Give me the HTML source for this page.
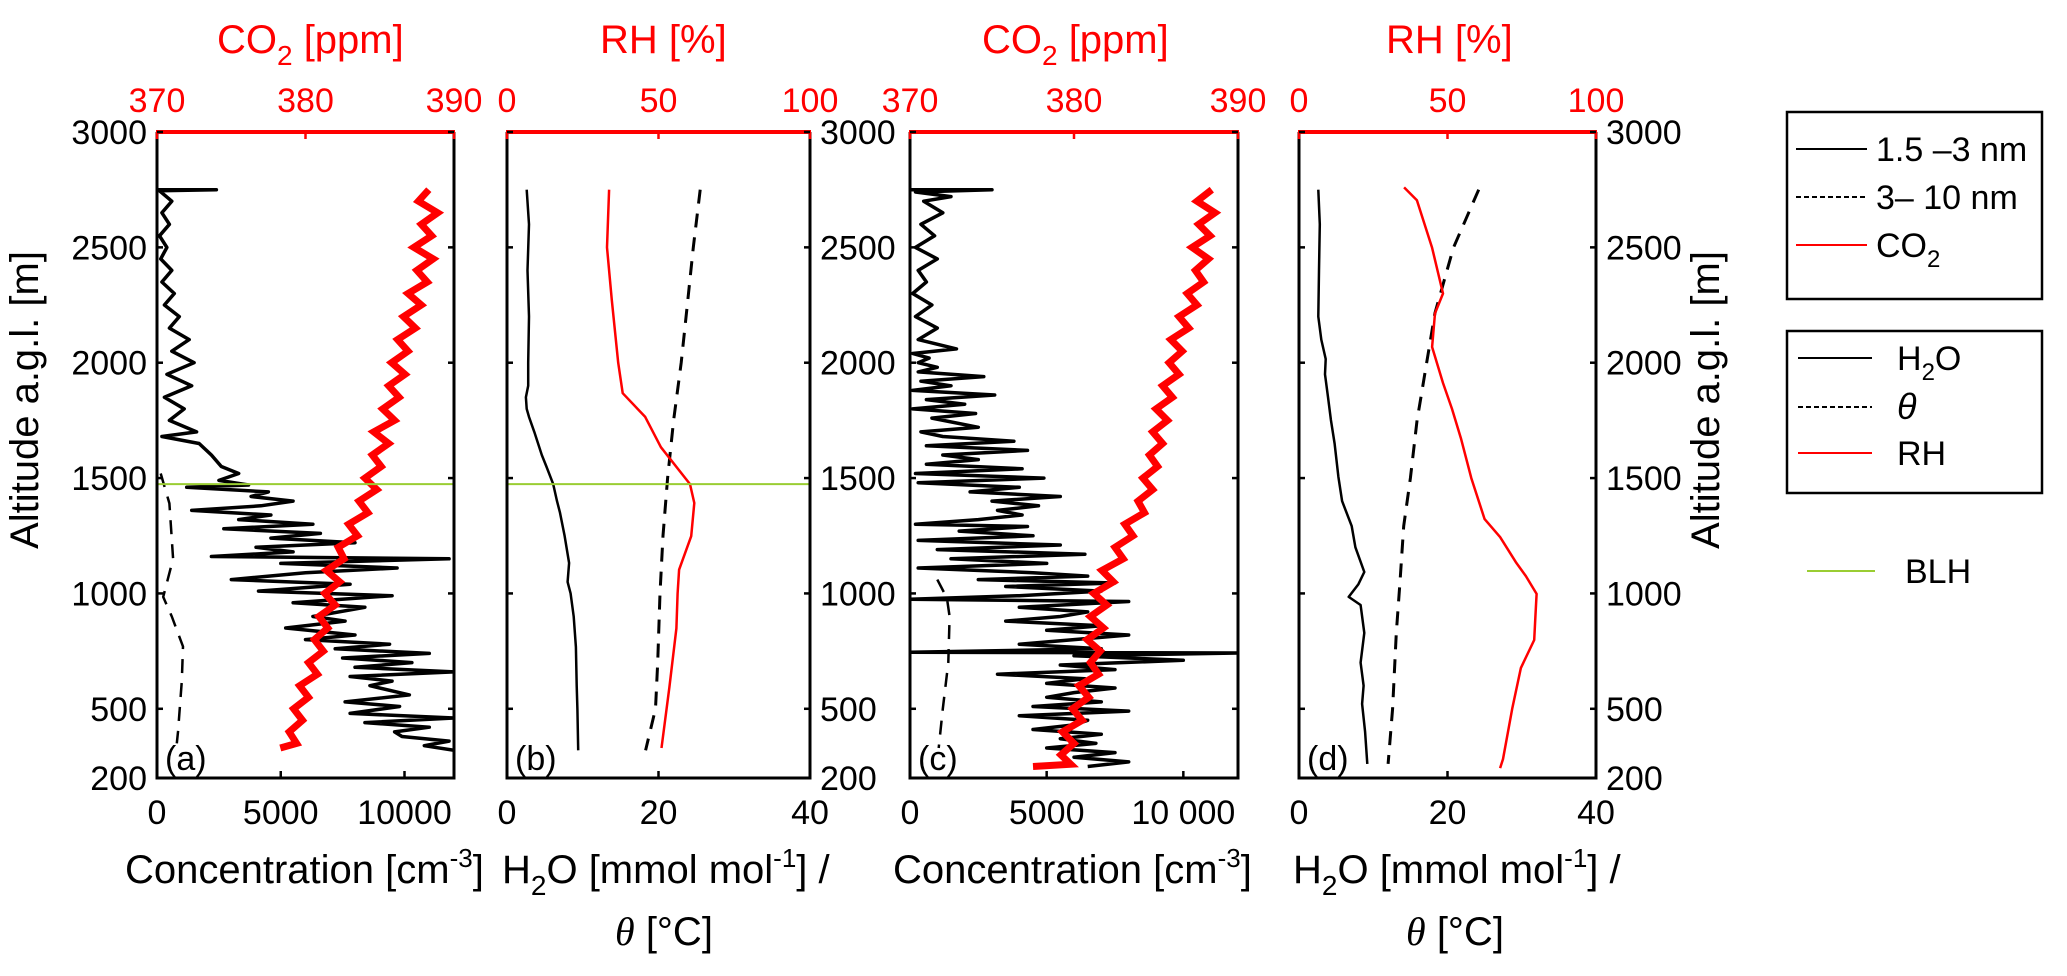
<!DOCTYPE html>
<html><head><meta charset="utf-8"><style>
html,body{margin:0;padding:0;background:#fff}
svg{display:block}
text{font-family:"Liberation Sans",sans-serif}
</style></head><body>
<svg id="fig" width="2067" height="976" viewBox="0 0 2067 976" xmlns="http://www.w3.org/2000/svg">
<g id="marks"></g>
<g id="axes"></g>

<text x="38" y="400" font-size="40" text-anchor="middle" transform="rotate(-90 38 400)">Altitude a.g.l. [m]</text>
<text x="1719" y="400" font-size="40" text-anchor="middle" transform="rotate(-90 1719 400)">Altitude a.g.l. [m]</text>

<text x="217" y="53" font-size="40" fill="#ff0000">CO<tspan font-size="28" dy="12">2</tspan><tspan dy="-12"> [ppm]</tspan></text>
<text x="600" y="53" font-size="40" fill="#ff0000">RH [%]</text>
<text x="982" y="53" font-size="40" fill="#ff0000">CO<tspan font-size="28" dy="12">2</tspan><tspan dy="-12"> [ppm]</tspan></text>
<text x="1386" y="53" font-size="40" fill="#ff0000">RH [%]</text>

<text x="125" y="883" font-size="40">Concentration [cm<tspan font-size="26" dy="-16">-3</tspan><tspan dy="16">]</tspan></text>
<text x="502" y="883" font-size="40">H<tspan font-size="28" dy="12">2</tspan><tspan dy="-12">O [mmol mol</tspan><tspan font-size="26" dy="-16">-1</tspan><tspan dy="16">] /</tspan></text>
<text x="664" y="945" font-size="40" text-anchor="middle"><tspan font-family="Liberation Serif" font-style="italic">θ</tspan> [°C]</text>
<text x="893" y="883" font-size="40">Concentration [cm<tspan font-size="26" dy="-16">-3</tspan><tspan dy="16">]</tspan></text>
<text x="1293" y="883" font-size="40">H<tspan font-size="28" dy="12">2</tspan><tspan dy="-12">O [mmol mol</tspan><tspan font-size="26" dy="-16">-1</tspan><tspan dy="16">] /</tspan></text>
<text x="1455" y="945" font-size="40" text-anchor="middle"><tspan font-family="Liberation Serif" font-style="italic">θ</tspan> [°C]</text>

<g>
<rect x="1787" y="112" width="255" height="187" fill="none" stroke="#000" stroke-width="2.5"/>
<line x1="1796" y1="149" x2="1867" y2="149" stroke="#000" stroke-width="2"/>
<text x="1876" y="161" font-size="34">1.5 –3 nm</text>
<line x1="1796" y1="197" x2="1867" y2="197" stroke="#000" stroke-width="2" stroke-dasharray="5,3"/>
<text x="1876" y="209" font-size="34">3– 10 nm</text>
<line x1="1796" y1="245" x2="1867" y2="245" stroke="#ff0000" stroke-width="2"/>
<text x="1876" y="257" font-size="34">CO<tspan font-size="24" dy="10">2</tspan></text>
</g>
<g>
<rect x="1787" y="331" width="255" height="162" fill="none" stroke="#000" stroke-width="2.5"/>
<line x1="1798" y1="358" x2="1872" y2="358" stroke="#000" stroke-width="2"/>
<text x="1897" y="370" font-size="34">H<tspan font-size="24" dy="10">2</tspan><tspan dy="-10">O</tspan></text>
<line x1="1798" y1="407" x2="1872" y2="407" stroke="#000" stroke-width="2" stroke-dasharray="5,3"/>
<text x="1897" y="419" font-size="36" font-family="Liberation Serif" font-style="italic">θ</text>
<line x1="1798" y1="453" x2="1872" y2="453" stroke="#ff0000" stroke-width="2"/>
<text x="1897" y="465" font-size="34">RH</text>
</g>
<line x1="1807" y1="571" x2="1875" y2="571" stroke="#9acd32" stroke-width="2"/>
<text x="1905" y="583" font-size="34">BLH</text>
</svg>
<script>
const altTicks = [3000, 2500, 2000, 1500, 1000, 500, 200];
const concTicksA = [0, 5000, 10000];
const concTickLabelsA = ["0", "5000", "10000"];
const concTickLabelsC = ["0", "5000", "10 000"];
const h2oTicks = [0, 20, 40];
const co2Ticks = [370, 380, 390];
const rhTicks = [0, 50, 100];
const blhAltitude = 1474;

const n13a = [[2750,0],[2750,2400],[2745,100],[2700,600],[2650,200],[2600,500],[2550,100],[2500,400],[2450,150],[2400,600],[2350,200],[2300,700],[2250,300],[2200,900],[2150,500],[2100,1300],[2050,600],[2000,1500],[1950,400],[1900,1400],[1850,300],[1800,1100],[1750,500],[1700,1600],[1680,200],[1650,1700],[1600,2200],[1550,2600],[1520,3300],[1490,2500],[1470,3700],[1460,1200],[1440,4500],[1420,3800],[1400,5500],[1380,4200],[1360,1400],[1340,4600],[1320,3300],[1300,6300],[1280,2700],[1260,6600],[1240,4600],[1220,8000],[1200,4000],[1180,5500],[1160,2200],[1150,11800],[1130,5000],[1110,9700],[1090,6000],[1060,3000],[1040,7800],[1010,4100],[990,9500],[960,5500],[940,8400],[900,6300],[880,7600],[850,5200],[820,8000],[800,6000],[780,9400],[760,7200],[740,11000],[720,7500],[700,10300],[680,8000],[660,12000],[640,7800],[620,9500],[600,8600],[560,10200],[530,7600],[510,9800],[480,7800],[460,12000],[440,8400],[420,11000],[400,9600],[380,9900],[360,11800],[340,10800],[320,12000]];
const n310a = [[1520,150],[1390,500],[1150,650],[985,250],[900,600],[770,1050],[620,1000],[400,850],[350,800]];
const co2a = [[2750,388.3],[2700,387.6],[2650,388.9],[2600,387.8],[2550,388.5],[2500,387.3],[2450,388.6],[2400,387.5],[2350,388.2],[2300,386.9],[2250,387.8],[2200,386.6],[2150,387.4],[2100,386.2],[2050,386.9],[2000,385.8],[1950,386.7],[1900,385.6],[1850,386.3],[1800,385.2],[1750,386.0],[1700,384.6],[1650,385.6],[1600,384.5],[1550,385.1],[1500,384.0],[1450,384.8],[1400,383.6],[1350,384.2],[1300,382.9],[1250,383.5],[1200,382.2],[1150,382.6],[1100,381.4],[1050,382.3],[1000,381.3],[950,382.0],[900,380.9],[850,381.5],[800,380.6],[750,381.2],[700,380.2],[650,380.8],[600,379.6],[550,380.2],[500,379.2],[450,379.8],[400,378.9],[350,379.4],[330,378.3]];

const h2ob = [[2750,2.6],[2600,2.9],[2400,2.7],[2200,2.9],[2000,2.8],[1900,2.8],[1850,2.5],[1800,2.6],[1765,2.9],[1700,3.6],[1600,4.6],[1550,5.2],[1474,6.1],[1400,6.6],[1350,7.0],[1250,7.6],[1132,8.2],[1050,8.0],[1000,8.4],[900,8.8],[768,9.1],[600,9.2],[500,9.3],[320,9.4]];
const thetab = [[2750,25.5],[2500,24.6],[2250,23.8],[2000,23.0],[1750,22.0],[1500,21.2],[1250,20.6],[1000,20.2],[700,19.9],[500,19.6],[320,18.3]];
const rhb = [[2750,33.7],[2500,33.0],[2272,34.6],[2000,36.7],[1868,38.2],[1765,45.6],[1634,50.8],[1474,60.4],[1392,61.8],[1248,60.8],[1103,56.8],[1000,56.3],[849,55.9],[594,53.6],[330,51.0]];

const n13c = [[2750,0],[2750,3000],[2740,200],[2720,1500],[2700,500],[2650,1200],[2600,400],[2550,900],[2500,200],[2450,1000],[2400,300],[2350,600],[2300,100],[2250,800],[2200,200],[2150,1000],[2100,300],[2060,1700],[2040,100],[2020,700],[2000,300],[1980,1000],[1960,300],[1940,2700],[1920,400],[1900,1500],[1880,100],[1860,3100],[1840,600],[1820,2000],[1800,100],[1780,2400],[1760,800],[1720,2500],[1700,400],[1680,1200],[1660,3800],[1640,600],[1620,4300],[1600,1200],[1580,2500],[1560,600],[1540,4100],[1520,200],[1500,4900],[1480,300],[1460,4000],[1440,2200],[1420,5500],[1400,3000],[1380,4700],[1360,3200],[1340,4100],[1320,2500],[1300,200],[1290,4300],[1270,1800],[1250,4500],[1230,300],[1210,5500],[1190,1000],[1170,6400],[1150,1500],[1130,5000],[1110,300],[1090,4500],[1075,6500],[1060,2500],[1045,7500],[1030,3500],[1010,7000],[990,4000],[975,0],[965,8000],[940,4000],[920,6500],[900,5500],[880,3500],[860,7000],[840,5000],[820,8000],[800,6000],[780,4000],[760,7000],[745,0],[742,12000],[730,6000],[710,10000],[690,5500],[670,7500],[650,3200],[630,6400],[610,5000],[590,7500],[570,6000],[550,5000],[530,7000],[510,4500],[490,8000],[470,4000],[450,6500],[430,6000],[410,4500],[390,7000],[370,5500],[350,6800],[330,5000],[310,7500],[290,6000],[270,8000],[250,6500]];
const n310c = [[1060,1000],[980,1350],[900,1450],[700,1400],[500,1200],[330,1050]];
const co2c = [[2750,388.4],[2700,387.5],[2650,388.6],[2600,387.6],[2550,388.3],[2500,387.2],[2450,388.2],[2400,387.4],[2350,387.9],[2300,386.9],[2250,387.5],[2200,386.4],[2150,387.0],[2100,385.9],[2050,386.6],[2000,385.8],[1950,386.4],[1900,385.4],[1850,386.0],[1800,385.0],[1750,385.7],[1700,384.8],[1650,385.4],[1600,384.6],[1550,385.1],[1500,384.2],[1450,384.8],[1400,383.9],[1350,384.3],[1300,383.1],[1250,383.6],[1200,382.5],[1150,383.0],[1100,381.7],[1050,382.4],[1000,381.2],[950,382.0],[900,381.0],[850,381.8],[800,380.8],[750,381.6],[700,381.0],[650,381.5],[600,380.3],[550,380.9],[500,379.9],[450,380.5],[400,379.3],[350,380.0],[300,379.2],[260,379.8],[250,377.5]];

const h2od = [[2750,2.6],[2600,2.8],[2400,2.7],[2200,2.6],[2100,3.0],[2016,3.6],[1950,3.5],[1851,3.9],[1752,4.3],[1650,4.8],[1505,5.3],[1400,5.8],[1292,7.1],[1200,7.6],[1093,8.8],[1040,8.0],[985,6.7],[950,8.3],[829,8.8],[700,8.3],[600,8.7],[521,8.5],[400,8.9],[261,9.2]];
const thetad = [[2750,24.2],[2498,20.8],[2214,18.3],[1808,16.2],[1752,15.9],[1500,15.0],[1292,14.1],[1050,13.6],[829,13.1],[500,12.6],[261,12.0]];
const rhd = [[2760,35.4],[2704,39.7],[2498,44.8],[2300,48.5],[2214,45.8],[2068,44.8],[1912,48.5],[1800,51.5],[1673,54.5],[1500,58.0],[1322,62.5],[1244,67.7],[1136,73.0],[1075,76.4],[998,80.0],[900,79.6],[798,79.2],[677,74.7],[500,71.8],[282,68.7],[243,67.7]];

const NS = "http://www.w3.org/2000/svg";
const Y_TOP = 132, Y_BOT = 778;
function yA(a){ return Y_BOT - (a - 200) * (Y_BOT - Y_TOP) / 2800; }
function lin(d0, d1, r0, r1){ return v => r0 + (v - d0) * (r1 - r0) / (d1 - d0); }
const P = { a:{x0:157,x1:454}, b:{x0:507,x1:810}, c:{x0:910,x1:1238}, d:{x0:1299,x1:1596} };
const marks = document.getElementById('marks');
const axes = document.getElementById('axes');
function mk(tag, attrs, parent){
  const e = document.createElementNS(NS, tag);
  for (const k in attrs) e.setAttribute(k, attrs[k]);
  (parent || marks).appendChild(e);
  return e;
}
function pathFrom(data, sx){
  return data.map((p,i)=>(i?'L':'M')+sx(p[1]).toFixed(1)+' '+yA(p[0]).toFixed(1)).join(' ');
}
function series(data, sx, stroke, width, dash, name, join){
  const e = mk('path', {d: pathFrom(data, sx), fill:'none', stroke: stroke, 'stroke-width': width, 'stroke-linejoin': join || 'round'});
  if (dash) e.setAttribute('stroke-dasharray', dash);
  
  
  return e;
}

const sConcA = lin(0, 12000, P.a.x0, P.a.x1), sCo2A = lin(370, 390, P.a.x0, P.a.x1);
const sH2oB = lin(0, 40, P.b.x0, P.b.x1), sRhB = lin(0, 100, P.b.x0, P.b.x1);
const sConcC = lin(0, 12000, P.c.x0, P.c.x1), sCo2C = lin(370, 390, P.c.x0, P.c.x1);
const sH2oD = lin(0, 40, P.d.x0, P.d.x1), sRhD = lin(0, 100, P.d.x0, P.d.x1);

const defs = mk('defs', {}, document.getElementById('fig'));
['a','c'].forEach(k=>{
  const cp = mk('clipPath', {id:'clip-'+k}, defs);
  mk('rect', {x:P[k].x0, y:Y_TOP, width:P[k].x1-P[k].x0, height:Y_BOT-Y_TOP}, cp);
});

series(n13a, sConcA, '#000', 3.5, null, 'series-a-1.5-3nm').setAttribute('clip-path','url(#clip-a)');
series(n310a, sConcA, '#000', 2.5, '14,10', 'series-a-3-10nm');
series(co2a, sCo2A, '#ff0000', 7, null, 'series-a-co2', 'miter');
series(h2ob, sH2oB, '#000', 2.5, null, 'series-b-h2o');
series(thetab, sH2oB, '#000', 3, '14,10', 'series-b-theta');
series(rhb, sRhB, '#ff0000', 2.5, null, 'series-b-rh');
series(n13c, sConcC, '#000', 3.5, null, 'series-c-1.5-3nm').setAttribute('clip-path','url(#clip-c)');
series(n310c, sConcC, '#000', 2.5, '14,10', 'series-c-3-10nm');
series(co2c, sCo2C, '#ff0000', 7, null, 'series-c-co2', 'miter');
series(h2od, sH2oD, '#000', 2.5, null, 'series-d-h2o');
series(thetad, sH2oD, '#000', 3, '14,10', 'series-d-theta');
series(rhd, sRhD, '#ff0000', 2.5, null, 'series-d-rh');

['a','b'].forEach(k=>{
  const l = mk('line', {x1:P[k].x0, x2:P[k].x1, y1:yA(blhAltitude), y2:yA(blhAltitude), stroke:'#9acd32', 'stroke-width':2});
  
  
});

function txt(x, y, s, anchor, fill, name){
  const t = mk('text', {x:x, y:y, 'font-size':34, 'text-anchor':anchor, fill:fill}, axes);
  t.textContent = s;
  
  
  return t;
}
function box(k, bTicks, bLabels, bScale, tTicks, tScale, leftLabels, rightLabels, letter){
  const p = P[k];
  const g = mk('g', {}, axes);
  
  
  mk('path', {d:`M${p.x0} ${Y_TOP} L${p.x0} ${Y_BOT} L${p.x1} ${Y_BOT} L${p.x1} ${Y_TOP}`, fill:'none', stroke:'#000', 'stroke-width':3}, g);
  mk('line', {x1:p.x0-1, x2:p.x1+1, y1:Y_TOP, y2:Y_TOP, stroke:'#ff0000', 'stroke-width':4}, g);
  bTicks.forEach((v,i)=>{
    const x = bScale(v);
    mk('line', {x1:x, x2:x, y1:Y_BOT, y2:Y_BOT-7, stroke:'#000', 'stroke-width':2.5}, g);
    txt(x, 824, bLabels[i], 'middle', '#000', 'x-tick-label-' + k);
  });
  tTicks.forEach(v=>{
    const x = tScale(v);
    mk('line', {x1:x, x2:x, y1:Y_TOP, y2:Y_TOP+7, stroke:'#ff0000', 'stroke-width':2.5}, g);
    txt(x, 112, String(v), 'middle', '#ff0000', 'top-tick-label-' + k);
  });
  altTicks.forEach(a=>{
    const y = yA(a);
    mk('line', {x1:p.x0, x2:p.x0+6, y1:y, y2:y, stroke:'#000', 'stroke-width':2.5}, g);
    mk('line', {x1:p.x1, x2:p.x1-6, y1:y, y2:y, stroke:'#000', 'stroke-width':2.5}, g);
    if (leftLabels) txt(p.x0-10, y+12, String(a), 'end', '#000', 'y-tick-label-left');
    if (rightLabels) txt(p.x1+10, y+12, String(a), 'start', '#000', 'y-tick-label-right');
  });
  txt(p.x0+8, 770, '(' + letter + ')', 'start', '#000', 'panel-label-' + k);
}
box('a', concTicksA, concTickLabelsA, sConcA, co2Ticks, sCo2A, true, false, 'a');
box('b', h2oTicks, h2oTicks.map(String), sH2oB, rhTicks, sRhB, false, true, 'b');
box('c', concTicksA, concTickLabelsC, sConcC, co2Ticks, sCo2C, false, false, 'c');
box('d', h2oTicks, h2oTicks.map(String), sH2oD, rhTicks, sRhD, false, true, 'd');
</script>
</body></html>
